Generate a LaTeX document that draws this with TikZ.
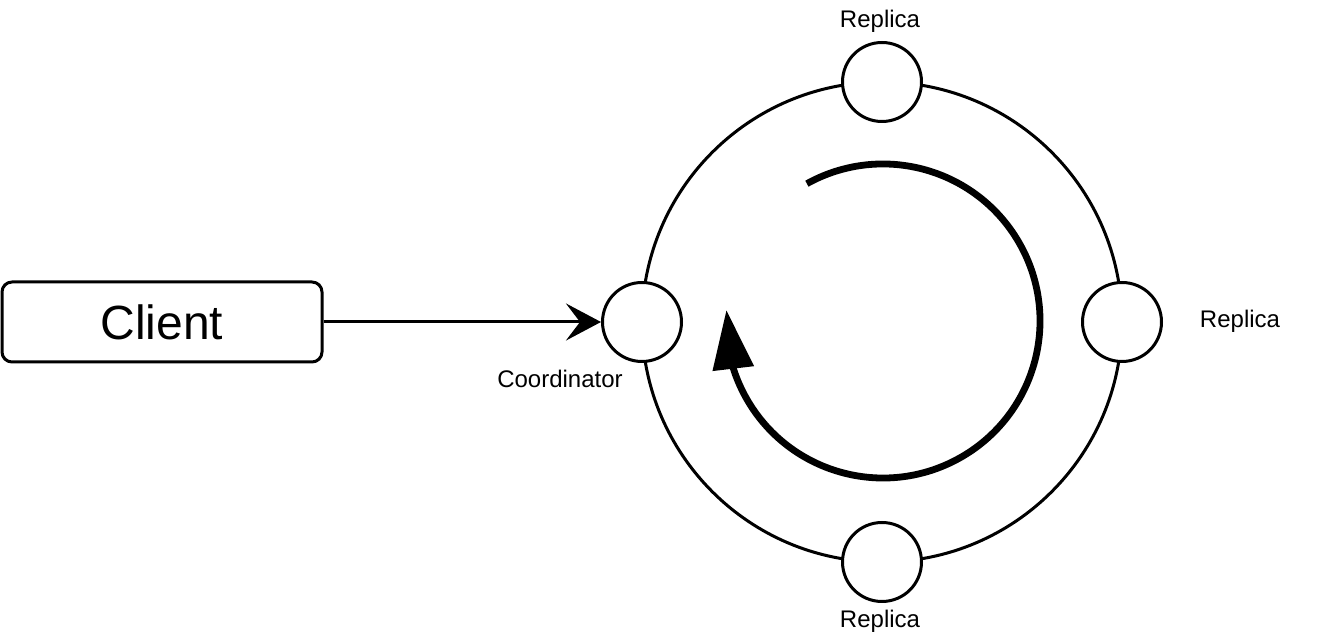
\documentclass[tikz,border=0pt]{standalone}
\usepackage{fontspec}
\setmainfont{Liberation Sans}
\usetikzlibrary{arrows.meta,bending}
\tikzset{
  replica/.style={circle, draw, fill=white, line width=1.5pt, minimum size=39.5pt, inner sep=0pt},
  tag/.style={anchor=base, inner sep=0pt, font=\fontsize{12}{14}\selectfont},
}
\begin{document}
\begin{tikzpicture}[x=0.5pt,y=0.5pt]
\useasboundingbox (0,0) rectangle (1324,-640);
\node[draw, rounded corners=5pt, line width=1.5pt, minimum width=160pt, minimum height=40pt, font=\fontsize{24}{28}\selectfont] (client) at (162,-322) {Client};
\node[circle, draw, line width=1.5pt, minimum size=240pt, inner sep=0pt, outer sep=0pt] (ring) at (882,-322) {};
\coordinate (hub) at (883,-321);
\node[replica] (coord) at (ring.west) {};
\node[replica] (r1) at (ring.north) {};
\node[replica] (r2) at (ring.east) {};
\node[replica] (r3) at (ring.south) {};
\node[tag] (t0) at (560,-387.5) {Coordinator};
\node[tag] (t1) at (880,-27.5) {Replica};
\node[tag] (t2) at (1240,-328) {Replica};
\node[tag] (t3) at (880,-627.5) {Replica};
\draw[line width=1.5pt, -{Stealth[length=17.5pt, width=18.5pt, inset=7pt]}] (client) -- (coord);
\draw[line width=3.4pt, -{Triangle[length=29.5pt, width=20pt, flex]}] ([shift={(119:157)}]hub) arc[start angle=119, end angle=-184, radius=157];
\end{tikzpicture}
\end{document}
